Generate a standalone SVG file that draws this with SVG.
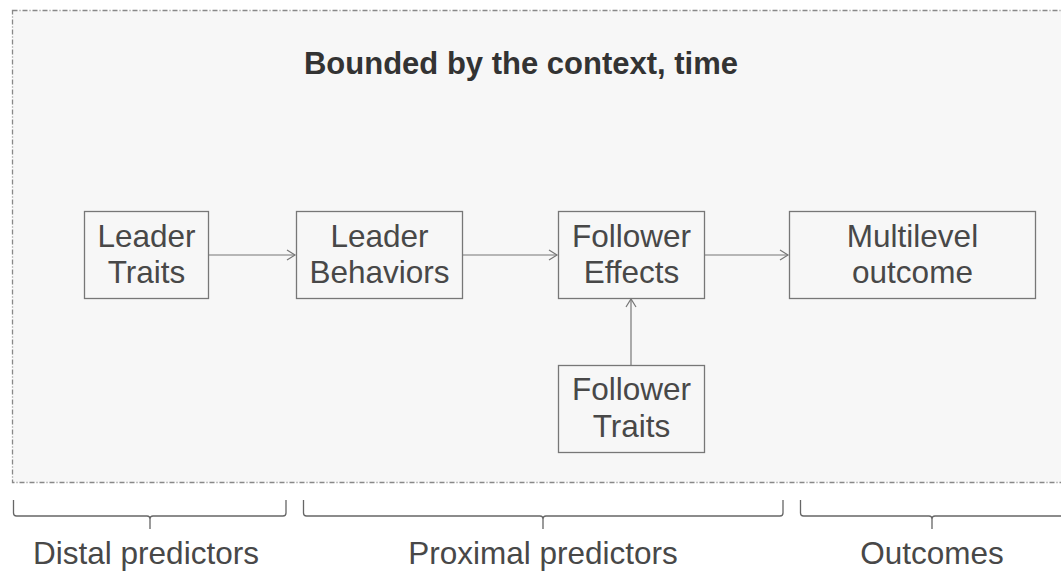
<svg xmlns="http://www.w3.org/2000/svg" width="1061" height="576" viewBox="0 0 1061 576">
<style>
.box{fill:none;stroke:#777;stroke-width:1.3}
.t{font-family:"Liberation Sans",Arial,sans-serif;font-size:31.5px;fill:#484848;text-anchor:middle}
.c{stroke:#777;stroke-width:1.2;fill:none}
.br{stroke:#666;stroke-width:1.3;fill:none}
</style>
<defs>
<marker id="ah" markerWidth="12" markerHeight="12" refX="10" refY="6" orient="auto" markerUnits="userSpaceOnUse">
<path d="M2,1 L10,6 L2,11" fill="none" stroke="#777" stroke-width="1.2"/>
</marker>
</defs>
<rect width="1061" height="576" fill="#fff"/>
<g id="context">
<rect x="12.5" y="10.5" width="1070" height="472" fill="#f7f7f7" stroke="#888" stroke-width="1.3" stroke-dasharray="5,2,1,2"/>
<text x="521" y="74" style="font-family:'Liberation Sans',Arial,sans-serif;font-size:31px;font-weight:bold;fill:#333" text-anchor="middle">Bounded by the context, time</text>
</g>
<g id="connectors">
<line class="c" x1="208" y1="255" x2="295" y2="255" marker-end="url(#ah)"/>
<line class="c" x1="462" y1="255" x2="557" y2="255" marker-end="url(#ah)"/>
<line class="c" x1="704" y1="255" x2="788" y2="255" marker-end="url(#ah)"/>
<line class="c" x1="631" y1="365" x2="631" y2="299" marker-end="url(#ah)"/>
</g>
<g id="leader-traits">
<rect class="box" x="84.5" y="211.5" width="124" height="87"/>
<text class="t" x="146.5" y="247">Leader</text>
<text class="t" x="146.5" y="283">Traits</text>
</g>
<g id="leader-behaviors">
<rect class="box" x="296.5" y="211.5" width="166" height="87"/>
<text class="t" x="379.5" y="247">Leader</text>
<text class="t" x="379.5" y="283">Behaviors</text>
</g>
<g id="follower-effects">
<rect class="box" x="558.5" y="211.5" width="146" height="87"/>
<text class="t" x="631.5" y="247">Follower</text>
<text class="t" x="631.5" y="283">Effects</text>
</g>
<g id="multilevel-outcome">
<rect class="box" x="789.5" y="211.5" width="246" height="87"/>
<text class="t" x="912.5" y="247">Multilevel</text>
<text class="t" x="912.5" y="283">outcome</text>
</g>
<g id="follower-traits">
<rect class="box" x="558.5" y="365.5" width="146" height="87"/>
<text class="t" x="631.5" y="400">Follower</text>
<text class="t" x="631.5" y="437">Traits</text>
</g>
<g id="distal">
<path class="br" d="M13.5,500 V513 Q13.5,516 16.5,516 H147 Q150,516 150,519 V529 M150,519 Q150,516 153,516 H283 Q286,516 286,513 V500"/>
<text class="t" x="146" y="564">Distal predictors</text>
</g>
<g id="proximal">
<path class="br" d="M303.5,500 V513 Q303.5,516 306.5,516 H540 Q543,516 543,519 V529 M543,519 Q543,516 546,516 H780 Q783,516 783,513 V500"/>
<text class="t" x="543" y="564">Proximal predictors</text>
</g>
<g id="outcomes">
<path class="br" d="M800.5,500 V513 Q800.5,516 803.5,516 H929 Q932,516 932,519 V529 M932,519 Q932,516 935,516 H1070"/>
<text class="t" x="932" y="564">Outcomes</text>
</g>
</svg>
